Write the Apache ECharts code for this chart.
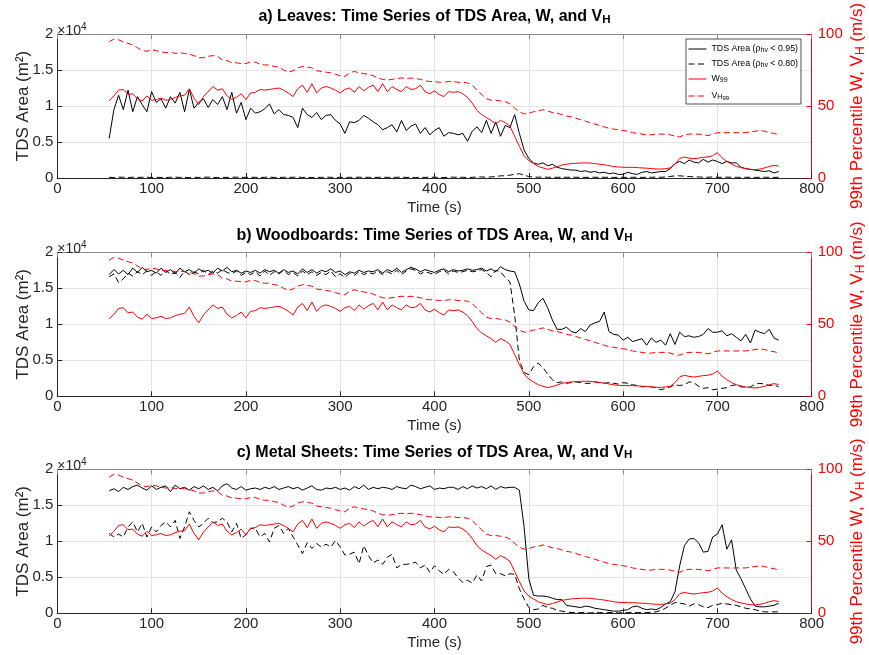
<!DOCTYPE html>
<html>
<head>
<meta charset="utf-8">
<script src="https://cdn.jsdelivr.net/npm/echarts@6/dist/echarts.min.js"></script>
<style>
  html, body { margin: 0; padding: 0; background: #ffffff; }
  #chart { width: 869px; height: 655px; }
</style>
</head>
<body>
<div id="chart"></div>
<script>
// Sample times (s)
const times = [
  55,60,65,70,75,80,85,90,95,100,
  105,110,115,120,125,130,135,140,145,150,
  155,160,165,170,175,180,185,190,195,200,
  205,210,215,220,225,230,235,240,245,250,
  255,260,265,270,275,280,285,290,295,300,
  305,310,315,320,325,330,335,340,345,350,
  355,360,365,370,375,380,385,390,395,400,
  405,410,415,420,425,430,435,440,445,450,
  455,460,465,470,475,480,485,490,495,500,
  505,510,515,520,525,530,535,540,545,550,
  555,560,565,570,575,580,585,590,595,600,
  605,610,615,620,625,630,635,640,645,650,
  655,660,665,670,675,680,685,690,695,700,
  705,710,715,720,725,730,735,740,745,750,
  755,760,765
];

// 99th percentile vertical velocity W (m/s)
const w99 = [
  53.6,57,61,61.5,58,58.5,55,53.5,57,54,
  54.5,55.5,54,54.5,56,57,57.5,62,55.5,51,
  56.5,60,63.5,61,62,57,54.5,56,58.5,54.5,
  59,59.5,61.5,61,61.5,62,62.5,61,59,56.5,
  62,64.5,59.5,65.5,59,62.5,63.5,62.5,61,59,
  61.5,62.5,59.5,63.5,60.5,63,64.5,60,65.5,60,
  63.5,61.5,60,63.5,61.5,62,64.5,60,58.5,60.5,
  58,56.5,60,59.5,60,58.5,56,52,47,44,
  42,40,37.5,40,38.5,36,29,22,15.5,12,
  10,8,7,6,6.8,7.8,9,9.5,10,10.2,
  10.4,10.5,10.4,10,9.6,9.2,8.6,8,7.6,7.5,
  7.4,7.4,7.2,7,6.8,6.5,6.3,6.2,6.5,7,
  9.5,13.5,14.6,13.8,13.4,13.8,14.4,14.6,15.5,17.6,
  14,11.5,9.6,8.1,7.2,6.5,6,5.8,6.2,7,
  8,8.8,8.2
];

// 99th percentile horizontal velocity VH (m/s)
const vh99 = [
  94.5,96.5,96,94.5,93.5,92.5,90.5,88.5,88,89,
  88.5,87.5,87,87.5,86.5,87,86.5,86,85,83.5,
  83.5,84.5,85,84.5,82,81.5,80,80,79.5,79.5,
  80.5,80.5,79,78.5,78.5,77.5,77,75,73.5,74.5,
  76.5,77.5,77,76.5,74.5,74,73.5,73,72,71,
  70.5,73,74,73,72.5,72,71,69.5,68.5,68,
  68.5,69,69.5,69,69.5,69,68.5,67.5,67,67,
  66.5,66.5,67,67,66.5,66.5,66,64.5,61,58,
  55,54,54,53.5,53,51.5,48.5,46,44.5,45,
  46,46.5,47.5,46.5,45.5,45,44,43,42.5,41.5,
  40.5,39.5,38.5,37.5,36.5,35.5,34.5,34,33.5,33,
  32.5,31.5,31,30.5,30,30,30.5,30.5,30.5,30,
  29,28.5,30,30.5,30.5,30.5,30,29.5,30.5,31.5,
  31.5,31.5,31.5,31.5,31.5,31.5,32,32.5,33,32.5,
  31.5,31,30
];

// Leaves: TDS area (m^2), rho_hv < 0.95 and rho_hv < 0.80
const leavesTds95 = [
  5500,9500,11500,9500,12200,9200,11300,10200,9200,12000,
  10500,11000,9700,11300,10400,11900,9200,12300,9700,10500,
  11000,9800,10900,10200,11300,9500,11900,9000,10500,8100,
  9700,9000,9200,9600,10300,8900,9500,8800,8700,8400,
  7000,9700,8800,8400,9100,8100,8700,8800,8000,7500,
  6200,7800,7700,8000,8700,8300,7800,7400,6700,7000,
  7400,6400,8000,6600,7200,7500,6200,7000,6000,6600,
  7000,5800,6300,6200,6000,6200,5100,6500,7100,6300,
  8000,6200,7800,5800,7300,7000,8800,6200,3900,2700,
  2100,1900,2100,1700,1900,1500,1300,1200,1100,1100,
  900,1000,800,900,700,800,600,700,500,500,
  800,600,500,800,900,700,800,900,900,1300,
  2000,2300,2000,2500,2200,2100,2600,2200,2500,2300,
  2000,2300,2100,2100,1500,1300,1200,1100,1000,900,
  1000,700,900
];
const leavesTds80 = [
  100,60,120,100,60,100,80,100,120,60,
  100,80,60,100,120,80,100,60,100,80,
  100,120,80,60,100,80,100,120,60,100,
  80,100,60,100,120,80,60,100,80,100,
  120,80,100,60,100,80,120,100,60,100,
  80,100,60,120,80,100,60,100,80,100,
  60,100,120,80,100,60,100,80,120,100,
  80,60,100,120,80,100,60,100,120,150,
  100,150,200,300,300,400,500,600,400,200,
  150,100,150,100,100,100,100,100,100,100,
  100,80,100,100,80,100,100,80,100,100,
  80,100,100,80,100,100,120,100,150,200,
  300,300,250,200,150,150,100,100,150,100,
  100,120,100,100,80,100,100,80,100,100,
  100,80,100
];

// Woodboards: TDS area (m^2)
const woodTds95 = [
  16900,17600,17000,17500,16900,17800,17200,17900,17300,17500,
  17100,17800,17200,17600,17000,17800,17300,17600,17100,17700,
  17300,17500,17100,17800,17400,17900,17300,17500,17100,17400,
  17200,17500,17100,17600,17300,17500,17100,17600,17200,17400,
  17000,17700,17200,17600,17100,17500,17300,17700,17200,17400,
  16900,17300,17100,17500,17200,17400,17300,17600,17100,17600,
  17300,17800,17200,17600,17900,17700,17300,17600,17400,17200,
  17500,17700,17300,17600,17400,17500,17700,17500,17600,17800,
  17400,17700,17300,18000,17600,17400,17300,15600,13200,12000,
  11900,13000,13600,12300,10600,9300,9300,9600,9000,8800,
  9400,9000,9900,10200,10400,11700,9000,8600,8500,7800,
  8200,7600,7800,8000,7100,8100,7500,7800,7100,8700,
  7200,8900,8300,8400,8200,8300,8600,9400,8900,8900,
  9100,8400,8700,8200,7700,8600,7400,9200,8900,8700,
  9300,8100,7800
];
const woodTds80 = [
  16600,17000,15800,16300,17100,16700,17300,16900,17400,16800,
  17300,16800,17500,16900,17200,16500,17400,16900,17300,17000,
  17500,16900,17400,17100,17600,17200,17000,17400,16800,17200,
  16900,17300,16700,17400,16800,17300,17000,17500,16900,17200,
  16700,17400,16900,17300,16800,17200,16900,17400,16600,17000,
  16500,17100,16800,17300,16900,17200,17000,17400,16900,17300,
  17000,17500,16900,17400,17700,17500,17000,17300,17100,16900,
  17300,17500,17000,17400,17200,17300,17500,17300,17400,17600,
  17200,16600,17500,17300,16500,15900,11300,5000,3300,3000,
  4100,4600,4000,3100,2300,1900,2000,1800,1900,2000,
  1900,1800,1800,2000,1900,1800,1900,1800,1700,1900,
  1800,1600,1500,1300,1400,1300,1200,900,1100,1300,
  1600,1500,1600,2000,1900,1400,1100,1200,900,1000,
  1100,1200,1500,1600,1300,1300,1300,1700,1800,1700,
  1500,1600,1300
];

// Metal sheets: TDS area (m^2)
const metalTds95 = [
  17000,17300,16900,17500,17200,17600,17800,17400,17100,17700,
  17200,17500,17700,16900,17800,17300,17500,17100,17600,17300,
  17700,17200,17500,17000,17700,18000,17400,17200,17600,17100,
  17300,17400,17200,17500,17300,17600,17200,17400,17600,17300,
  17500,17100,17400,17700,17200,17100,17400,17300,17500,17200,
  17400,17100,17600,17300,17800,17200,17500,17300,17500,17400,
  17200,17600,17400,17300,17800,17600,17300,17500,17700,17200,
  17400,17300,17500,17500,17200,17600,17300,17700,17400,17600,
  17300,17700,17200,17600,17400,17500,17500,17100,12000,4800,
  2500,2400,2400,2300,2100,1900,1900,1100,1000,900,
  800,1000,900,700,600,500,400,300,300,400,
  500,900,1000,700,500,600,500,800,1300,1600,
  3000,6600,9400,10300,10400,9800,8500,8600,10600,11000,
  12300,8900,10200,6000,4800,3400,2000,1000,900,900,
  1000,1100,1400
];
const metalTds80 = [
  11100,10600,11000,10600,12000,12700,11300,12500,10600,12000,
  11300,12200,12700,12000,12900,10400,12000,14100,12900,12000,
  12500,13200,12600,12700,13200,12700,11300,12500,10400,10900,
  11800,11800,10600,11100,9900,11800,12200,11100,11800,10600,
  9500,8300,9800,9000,9700,9200,9600,9200,10100,9200,
  8100,8200,8500,6900,9400,8000,7000,7400,6800,7800,
  8200,6300,6800,6800,6900,7100,6300,6700,5700,6600,
  5900,5400,6100,5800,4900,4300,4600,4200,5300,4500,
  6500,6700,5500,5500,5200,5500,5400,3400,2000,800,
  500,600,1100,800,700,400,300,200,100,100,
  100,100,50,100,100,50,100,100,50,100,
  100,150,100,100,100,150,200,400,700,1100,
  1500,1400,1300,1000,1300,1200,900,800,1100,1200,
  1400,1300,1200,1100,900,700,600,500,300,200,
  200,200,200
];

const panelNames = ['a) Leaves', 'b) Woodboards', 'c) Metal Sheets'];
const xTicks = { min: 0, max: 800, step: 100 };
const leftTicks = { min: 0, max: 20000, step: 5000 };
const rightTicks = { min: 0, max: 100, step: 50 };

const FONT = '"Liberation Sans", Arial, Helvetica, sans-serif';
const INK = '#262626';
const RED = '#ff0000';
const GRIDLINE = '#e4e4e4';
const DASH = [6, 3.5];

const NAME_95 = 'TDS Area (\u03c1hv < 0.95)';
const NAME_80 = 'TDS Area (\u03c1hv < 0.80)';
const NAME_W = 'W99';
const NAME_VH = 'VH99';

const panelSeries = [
  { tds95: leavesTds95, tds80: leavesTds80 },
  { tds95: woodTds95, tds80: woodTds80 },
  { tds95: metalTds95, tds80: metalTds80 }
];

const plotLeft = 57.3;
const plotWidth = 754.4;
const plotHeight = 144;
const plotTops = [34, 252.3, 469.3];

const toPairs = vals => times.map((t, i) => [t, vals[i]]);

const subRich = {
  t: { fontSize: 16, fontWeight: 'bold', fontFamily: FONT, color: '#000', lineHeight: 18 },
  s: { fontSize: 11.5, fontWeight: 'bold', fontFamily: FONT, color: '#000',
       verticalAlign: 'bottom', lineHeight: 12, padding: [16, 0, 0, 0] }
};

const titles = [];
const grids = [];
const xAxes = [];
const yAxes = [];
const series = [];

panelNames.forEach((name, i) => {
  const top = plotTops[i];
  titles.push({
    text: '{t|' + name + ': Time Series of TDS Area, W, and V}{s|H}',
    left: 'center',
    top: top - 26,
    padding: 0,
    textStyle: { rich: subRich }
  });
  titles.push({
    text: '{a|\u00d710}{b|4}',
    left: plotLeft,
    top: top - 12,
    padding: 0,
    textStyle: {
      fontWeight: 'normal',
      rich: {
        a: { fontSize: 14, fontWeight: 'normal', fontFamily: FONT, color: INK, lineHeight: 16, verticalAlign: 'bottom' },
        b: { fontSize: 10, fontWeight: 'normal', fontFamily: FONT, color: INK, lineHeight: 10, verticalAlign: 'top' }
      }
    }
  });

  grids.push({
    left: plotLeft, top: top, width: plotWidth, height: plotHeight,
    show: false, outerBoundsMode: 'none', containLabel: false
  });

  // bottom axis
  xAxes.push({
    type: 'value', gridIndex: i, position: 'bottom',
    min: xTicks.min, max: xTicks.max, interval: xTicks.step,
    name: 'Time (s)', nameLocation: 'middle', nameGap: 22, nameMoveOverlap: false,
    nameTextStyle: { fontSize: 15, fontFamily: FONT, color: INK },
    axisLine: { show: true, onZero: false, lineStyle: { color: INK, width: 1 } },
    axisTick: { show: true, inside: true, length: 5, lineStyle: { color: INK } },
    axisLabel: { fontSize: 15, fontFamily: FONT, color: INK, margin: 3 },
    splitLine: { show: true, lineStyle: { color: GRIDLINE, width: 1 } }
  });
  // top frame edge
  xAxes.push({
    type: 'value', gridIndex: i, position: 'top',
    min: xTicks.min, max: xTicks.max, interval: xTicks.step,
    axisLine: { show: true, onZero: false, lineStyle: { color: '#8c8c8c', width: 1 } },
    axisTick: { show: true, inside: true, length: 5, lineStyle: { color: '#8c8c8c' } },
    axisLabel: { show: false },
    splitLine: { show: false }
  });

  yAxes.push({
    type: 'value', gridIndex: i, position: 'left',
    min: leftTicks.min, max: leftTicks.max, interval: leftTicks.step,
    name: 'TDS Area (m\u00b2)', nameLocation: 'middle', nameGap: 25, nameRotate: 90,
    nameMoveOverlap: false,
    nameTextStyle: { fontSize: 17, fontFamily: FONT, color: INK },
    axisLine: { show: true, onZero: false, lineStyle: { color: INK, width: 1 } },
    axisTick: { show: true, inside: true, length: 5, lineStyle: { color: INK } },
    axisLabel: {
      fontSize: 15, fontFamily: FONT, color: INK, margin: 4,
      formatter: v => String(v / 10000)
    },
    splitLine: { show: true, lineStyle: { color: GRIDLINE, width: 1 } }
  });
  yAxes.push({
    type: 'value', gridIndex: i, position: 'right',
    min: rightTicks.min, max: rightTicks.max, interval: rightTicks.step,
    name: '{n|99th Percentile W, V}{s|H}{n| (m/s)}',
    nameLocation: 'middle', nameGap: 36, nameRotate: 90, nameMoveOverlap: false,
    nameTextStyle: {
      color: RED, fontSize: 17, fontFamily: FONT,
      rich: {
        n: { fontSize: 17, fontFamily: FONT, color: RED, lineHeight: 19 },
        s: { fontSize: 12, fontFamily: FONT, color: RED, verticalAlign: 'bottom',
             lineHeight: 12, padding: [14, 0, 0, 0] }
      }
    },
    axisLine: { show: true, onZero: false, lineStyle: { color: RED, width: 1 } },
    axisTick: { show: true, inside: true, length: 5, lineStyle: { color: RED } },
    axisLabel: { fontSize: 15, fontFamily: FONT, color: RED, margin: 6 },
    splitLine: { show: false }
  });

  const p = panelSeries[i];
  const base = { type: 'line', showSymbol: false, symbol: 'none', animation: false,
                 xAxisIndex: i * 2, silent: true };
  series.push(Object.assign({}, base, {
    name: NAME_95, yAxisIndex: i * 2, data: toPairs(p.tds95),
    lineStyle: { color: '#000', width: 1 }, itemStyle: { color: '#000' }, z: 2
  }));
  series.push(Object.assign({}, base, {
    name: NAME_80, yAxisIndex: i * 2, data: toPairs(p.tds80),
    lineStyle: { color: '#000', width: 1, type: DASH }, itemStyle: { color: '#000' }, z: 2
  }));
  series.push(Object.assign({}, base, {
    name: NAME_W, yAxisIndex: i * 2 + 1, data: toPairs(w99),
    lineStyle: { color: RED, width: 1 }, itemStyle: { color: RED }, z: 3
  }));
  series.push(Object.assign({}, base, {
    name: NAME_VH, yAxisIndex: i * 2 + 1, data: toPairs(vh99),
    lineStyle: { color: RED, width: 1, type: DASH }, itemStyle: { color: RED }, z: 3
  }));
});

const legendLabels = {};
legendLabels[NAME_95] = '{n|TDS Area (\u03c1}{s|hv}{n| < 0.95)}';
legendLabels[NAME_80] = '{n|TDS Area (\u03c1}{s|hv}{n| < 0.80)}';
legendLabels[NAME_W] = '{n|W}{s|99}';
legendLabels[NAME_VH] = '{n|V}{s|H}{ss|99}';

const option = {
  backgroundColor: '#ffffff',
  animation: false,
  textStyle: { fontFamily: FONT },
  title: titles,
  grid: grids,
  xAxis: xAxes,
  yAxis: yAxes,
  legend: {
    data: [NAME_95, NAME_80, NAME_W, NAME_VH],
    orient: 'vertical',
    left: 686, top: 39,
    itemWidth: 18, itemHeight: 8, itemGap: 3,
    padding: [3, 3, 3, 2],
    backgroundColor: '#ffffff',
    borderColor: '#262626', borderWidth: 0.8, borderRadius: 0,
    selectedMode: false,
    itemStyle: { opacity: 0 },
    lineStyle: { width: 1 },
    formatter: name => legendLabels[name] || name,
    textStyle: {
      fontSize: 8.8, fontFamily: FONT, color: '#000',
      rich: {
        n: { fontSize: 8.8, fontFamily: FONT, color: '#000', lineHeight: 10 },
        s: { fontSize: 7, fontFamily: FONT, color: '#000', verticalAlign: 'bottom',
             lineHeight: 7, padding: [5, 0, 0, 0] },
        ss: { fontSize: 6, fontFamily: FONT, color: '#000', verticalAlign: 'bottom',
              lineHeight: 6, padding: [8, 0, 0, 0] }
      }
    }
  },
  series: series
};

const chart = echarts.init(document.getElementById('chart'), null, { renderer: 'canvas' });
chart.setOption(option);
</script>
</body>
</html>
